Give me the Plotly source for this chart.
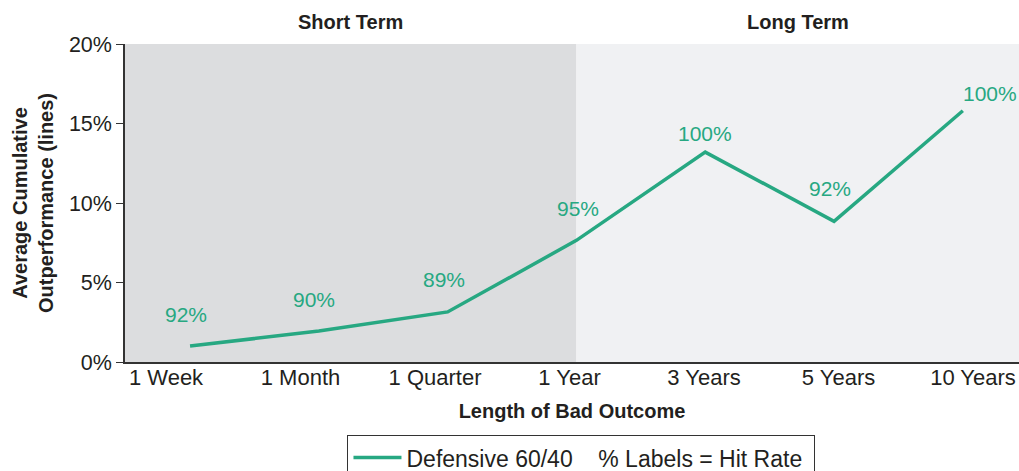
import plotly.graph_objects as go

categories = ["1 Week", "1 Month", "1 Quarter", "1 Year", "3 Years", "5 Years", "10 Years"]
outperformance = [1.0, 1.95, 3.15, 7.65, 13.2, 8.85, 15.8]
hit_rate_labels = ["92%", "90%", "89%", "95%", "100%", "92%", "100%"]
period_names = ["Short Term", "Long Term"]

# per-label nudges (pixels) to mimic the reference placement
label_yshift = [32, 32, 32, 32, 19, 33, 17]
label_xshift = [-4, -5, -4, 2, 0, -4, 27]

GREEN = "#27A882"
DARK = "#231F20"
FONT = "Liberation Sans"

xr = [-0.505, 6.436]          # data axis
xr_labels = [-0.305, 6.342]   # tick-label axis (labels are spread slightly wider)
x_pos = list(range(len(categories)))
split = 3

fig = go.Figure()
fig.add_trace(go.Scatter(
    x=x_pos, y=outperformance, mode="lines",
    line=dict(color=GREEN, width=3.5),
    name="Defensive 60/40&nbsp;&nbsp;&nbsp;&nbsp;% Labels = Hit Rate&nbsp;",
    hoverinfo="skip",
))
# invisible helper trace so the tick-label axis is drawn
fig.add_trace(go.Scatter(x=[x_pos[0]], y=[outperformance[0]], xaxis="x2", mode="none",
                         showlegend=False, hoverinfo="skip"))

shapes = [
    dict(type="rect", xref="x", yref="y", x0=xr[0], x1=split, y0=0, y1=20,
         fillcolor="#DCDDDF", line=dict(width=0), layer="below"),
    dict(type="rect", xref="x", yref="y", x0=split, x1=xr[1], y0=0, y1=20,
         fillcolor="#F0F1F3", line=dict(width=0), layer="below"),
]

annotations = []
for i, (v, lab) in enumerate(zip(outperformance, hit_rate_labels)):
    annotations.append(dict(x=x_pos[i], y=v, text=lab, showarrow=False,
                            xref="x", yref="y", yanchor="middle",
                            yshift=label_yshift[i], xshift=label_xshift[i],
                            font=dict(family=FONT, size=21, color=GREEN)))
annotations.append(dict(x=(xr[0] + split) / 2, y=1, xref="x", yref="paper", yanchor="bottom",
                        yshift=9, text="<b>" + period_names[0] + "</b>", showarrow=False,
                        font=dict(family=FONT, size=20, color=DARK)))
annotations.append(dict(x=(split + xr[1]) / 2, y=1, xref="x", yref="paper", yanchor="bottom",
                        yshift=9, text="<b>" + period_names[1] + "</b>", showarrow=False,
                        font=dict(family=FONT, size=20, color=DARK)))

fig.update_layout(
    width=1019, height=471,
    margin=dict(l=125, r=0, t=44, b=109, autoexpand=False),
    paper_bgcolor="white", plot_bgcolor="white",
    font=dict(family=FONT, color=DARK),
    shapes=shapes, annotations=annotations,
    showlegend=True,
    legend=dict(orientation="h", x=0.5106, xanchor="center", xref="paper",
                y=-0.23, yanchor="top", bordercolor="#333333", borderwidth=1,
                font=dict(family=FONT, size=23, color=DARK), itemwidth=48,
                bgcolor="white"),
    xaxis=dict(range=xr, showticklabels=False,
               showgrid=False, zeroline=False, showline=True, linecolor="#333333",
               linewidth=1.5, ticks=""),
    xaxis2=dict(range=xr_labels, overlaying="x", side="bottom", anchor="y",
                tickmode="array", tickvals=x_pos, ticktext=categories,
                showgrid=False, zeroline=False, showline=False, ticks="",
                tickfont=dict(size=22, color=DARK),
                title=dict(text="<b>Length of Bad Outcome</b>", font=dict(size=20, color=DARK),
                           standoff=14)),
    yaxis=dict(range=[0, 20], tickvals=[0, 5, 10, 15, 20],
               ticktext=["0%", "5%", "10%", "15%", "20%"],
               showgrid=False, zeroline=False, showline=True, linecolor="#333333",
               linewidth=1.5, ticks="outside", ticklen=7, tickcolor="#333333",
               tickfont=dict(size=21.5, color=DARK),
               title=dict(text="<b>Average Cumulative<br>Outperformance (lines)</b>",
                          font=dict(size=20, color=DARK), standoff=10)),
)

fig.write_html(
    "out.html",
    config={"displayModeBar": False},
    post_script="document.body.style.margin='0';document.body.style.overflow='hidden';",
)
